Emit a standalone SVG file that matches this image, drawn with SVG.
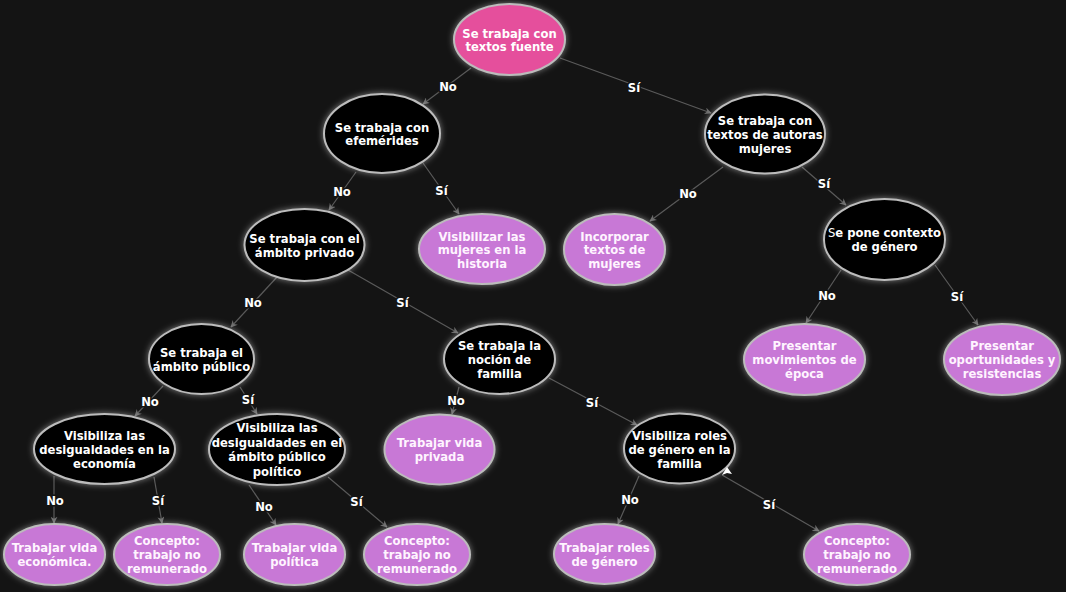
<svg xmlns="http://www.w3.org/2000/svg" width="1066" height="592" viewBox="0 0 1066 592">
<style>
.n ellipse{stroke:#bcbcbc;stroke-width:2;filter:url(#glow)}
.q ellipse{fill:#000}
.p ellipse{fill:#c878d6}
.r ellipse{fill:#e5509c}
.n text{font-family:"DejaVu Sans",Verdana,sans-serif;font-weight:bold;font-size:11.6px;fill:#fff;text-anchor:middle}
.p text{fill:#fff4ff}
#edges line{stroke:#5a5a5a;stroke-width:1.2;marker-end:url(#ah)}
#edges text{font-family:"DejaVu Sans",Verdana,sans-serif;font-weight:bold;font-size:11.6px;fill:#fff;text-anchor:middle;stroke:#141414;stroke-width:3;paint-order:stroke}
</style>
<defs>
<filter id="glow" x="-20%" y="-20%" width="140%" height="140%">
<feGaussianBlur in="SourceAlpha" stdDeviation="3" result="b"/>
<feFlood flood-color="#ffffff" flood-opacity="0.45"/>
<feComposite in2="b" operator="in" result="g"/>
<feMerge><feMergeNode in="g"/><feMergeNode in="SourceGraphic"/></feMerge>
</filter>
<marker id="ah" viewBox="0 0 10 10" refX="9" refY="5" markerWidth="7" markerHeight="7" orient="auto" markerUnits="userSpaceOnUse">
<path d="M0,0 L10,5 L0,10 L3,5 Z" fill="#6a6a6a"/>
</marker>
</defs>
<rect width="1066" height="592" fill="#141414"/>
<g id="edges">
<line x1="471" y1="68" x2="423" y2="104"/>
<line x1="560" y1="58" x2="711" y2="113"/>
<line x1="356" y1="172" x2="329" y2="210"/>
<line x1="423" y1="163" x2="459" y2="214"/>
<line x1="723" y1="167" x2="650" y2="221"/>
<line x1="802" y1="167" x2="846" y2="205"/>
<line x1="277" y1="277" x2="231" y2="327"/>
<line x1="348" y1="270" x2="458" y2="333"/>
<line x1="841" y1="270" x2="806" y2="323"/>
<line x1="935" y1="265" x2="978" y2="325"/>
<line x1="163" y1="386" x2="135" y2="416"/>
<line x1="240" y1="387" x2="257" y2="414"/>
<line x1="459" y1="387" x2="452" y2="414"/>
<line x1="549" y1="378" x2="637" y2="425"/>
<line x1="54" y1="476" x2="54" y2="523"/>
<line x1="154" y1="477" x2="162" y2="523"/>
<line x1="249" y1="485" x2="276" y2="525"/>
<line x1="328" y1="477" x2="387" y2="527"/>
<line x1="639" y1="476" x2="618" y2="524"/>
<line x1="722" y1="475" x2="819" y2="531"/>
<text x="448" y="90.5">No</text>
<text x="634" y="91.5">Sí</text>
<text x="342" y="196">No</text>
<text x="441.5" y="195">Sí</text>
<text x="688" y="198">No</text>
<text x="824" y="188">Sí</text>
<text x="253" y="307">No</text>
<text x="402.5" y="307">Sí</text>
<text x="827" y="299.5">No</text>
<text x="957" y="300.5">Sí</text>
<text x="150" y="406">No</text>
<text x="248" y="403.5">Sí</text>
<text x="456" y="404.5">No</text>
<text x="592" y="406.5">Sí</text>
<text x="55" y="504.5">No</text>
<text x="158" y="504.5">Sí</text>
<text x="264" y="511">No</text>
<text x="356.5" y="506">Sí</text>
<text x="630" y="504">No</text>
<text x="769" y="508.5">Sí</text>
</g>
<g id="nA" class="n r"><ellipse cx="509.5" cy="39.5" rx="55.5" ry="35.5"/><text x="509.5" y="37.5">Se trabaja con</text><text x="509.5" y="51">textos fuente</text></g>
<g id="nB" class="n q"><ellipse cx="382" cy="133.5" rx="58" ry="39.5"/><text x="382" y="131.5">Se trabaja con</text><text x="382" y="145">efemérides</text></g>
<g id="nC" class="n q"><ellipse cx="765" cy="134" rx="60" ry="39.5"/><text x="765" y="125">Se trabaja con</text><text x="765" y="139">textos de autoras</text><text x="765" y="153">mujeres</text></g>
<g id="nD" class="n q"><ellipse cx="304.5" cy="245" rx="60" ry="36"/><text x="304.5" y="243">Se trabaja con el</text><text x="304.5" y="256.5">ámbito privado</text></g>
<g id="nE" class="n p"><ellipse cx="482" cy="249" rx="63" ry="35"/><text x="482" y="240.5">Visibilizar las</text><text x="482" y="254">mujeres en la</text><text x="482" y="268">historia</text></g>
<g id="nF" class="n p"><ellipse cx="614.5" cy="249.5" rx="50.5" ry="35.5"/><text x="614.5" y="240.5">Incorporar</text><text x="614.5" y="254">textos de</text><text x="614.5" y="268">mujeres</text></g>
<g id="nG" class="n q"><ellipse cx="884.5" cy="239.5" rx="60.5" ry="40.5"/><text x="884.5" y="237"><tspan font-weight="normal">S</tspan>e pone contexto</text><text x="884.5" y="251">de género</text></g>
<g id="nH" class="n q"><ellipse cx="201.5" cy="359" rx="52.5" ry="35"/><text x="201.5" y="357">Se trabaja el</text><text x="201.5" y="370.5">ámbito público</text></g>
<g id="nI" class="n q"><ellipse cx="499.5" cy="359" rx="55.5" ry="35"/><text x="499.5" y="350">Se trabaja la</text><text x="499.5" y="364">noción de</text><text x="499.5" y="377.5">familia</text></g>
<g id="nJ" class="n p"><ellipse cx="804.5" cy="359.5" rx="60.5" ry="35.5"/><text x="804.5" y="350">Presentar</text><text x="804.5" y="364">movimientos de</text><text x="804.5" y="378">época</text></g>
<g id="nK" class="n p"><ellipse cx="1002" cy="359.5" rx="58" ry="35.5"/><text x="1002" y="350">Presentar</text><text x="1002" y="364">oportunidades y</text><text x="1002" y="378">resistencias</text></g>
<g id="nL" class="n q"><ellipse cx="104.5" cy="449" rx="70.5" ry="35"/><text x="104.5" y="439.5">Visibiliza las</text><text x="104.5" y="454">desigualdades en la</text><text x="104.5" y="468">economía</text></g>
<g id="nM" class="n q"><ellipse cx="277" cy="449.5" rx="68" ry="35.5"/><text x="277" y="432">Visibiliza las</text><text x="277" y="446.5">desigualdades en el</text><text x="277" y="461">ámbito público</text><text x="277" y="476">político</text></g>
<g id="nN" class="n p"><ellipse cx="439.5" cy="449.5" rx="55" ry="35"/><text x="439.5" y="447">Trabajar vida</text><text x="439.5" y="461">privada</text></g>
<g id="nO" class="n q"><ellipse cx="679.5" cy="448.5" rx="55.5" ry="35"/><text x="679.5" y="439.5">Visibiliza roles</text><text x="679.5" y="454">de género en la</text><text x="679.5" y="468">familia</text></g>
<g id="nP" class="n p"><ellipse cx="54.5" cy="554.5" rx="50.5" ry="30.5"/><text x="54.5" y="552">Trabajar vida</text><text x="54.5" y="565.5">económica.</text></g>
<g id="nQ" class="n p"><ellipse cx="167" cy="554.5" rx="53" ry="30.5"/><text x="167" y="545">Concepto:</text><text x="167" y="559">trabajo no</text><text x="167" y="573">remunerado</text></g>
<g id="nR" class="n p"><ellipse cx="294.5" cy="554.5" rx="50.5" ry="30.5"/><text x="294.5" y="552">Trabajar vida</text><text x="294.5" y="565.5">política</text></g>
<g id="nS" class="n p"><ellipse cx="417" cy="554.5" rx="53" ry="30.5"/><text x="417" y="545">Concepto:</text><text x="417" y="559">trabajo no</text><text x="417" y="573">remunerado</text></g>
<g id="nT" class="n p"><ellipse cx="604.5" cy="554" rx="50.5" ry="30"/><text x="604.5" y="552">Trabajar roles</text><text x="604.5" y="566">de género</text></g>
<g id="nU" class="n p"><ellipse cx="857" cy="554.5" rx="53" ry="30.5"/><text x="857" y="545">Concepto:</text><text x="857" y="559">trabajo no</text><text x="857" y="573">remunerado</text></g>
<polygon points="727,467 722,475 727,473 732,474" fill="#ffffff"/>
</svg>
